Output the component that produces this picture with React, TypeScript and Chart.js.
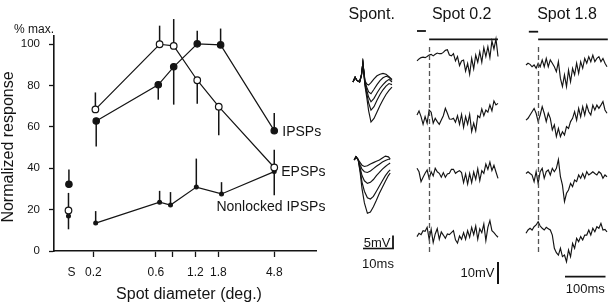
import React, { useEffect, useRef } from 'react';
import { Chart, registerables } from 'chart.js';

Chart.register(...registerables);

const FONT = "'Liberation Sans', Arial, Helvetica, sans-serif";
const INK = '#141414';
Chart.defaults.font.family = FONT;

// ---------------- Left plot data ----------------
const xTickValues = [0.136, 0.2, 0.6, 0.8, 1.2, 1.8, 4.8];
const xTickLabels = ['S', '0.2', '0.6', '', '1.2', '1.8', '4.8'];
const yTickStep = 20;

const epspX = [0.129, 0.207, 0.64, 0.82, 1.24, 1.81, 4.8];
const epspY = [19.6, 68.5, 100, 99.2, 82.6, 69.8, 40.4];
const epspErr = [8.5, 8.2, 9, 13, -11.4, -13.8, 8.6];

const ipspX = [0.13, 0.21, 0.625, 0.82, 1.24, 1.87, 4.8];
const ipspY = [32.3, 62.9, 80.4, 89.1, 100.2, 99.7, 58.2];
const ipspErr = [7.1, -12.3, -7.2, -18.3, 6.4, 7.9, 8.5];

const nonlockedX = [0.129, 0.208, 0.64, 0.775, 1.22, 1.9, 4.8];
const nonlockedY = [16.9, 13.5, 23.6, 22.2, 30.9, 27.6, 38.4];
const nonlockedErr = [-6.4, 5.8, 5.5, 6.3, 13.8, 5.7, -11.4];

const seriesLabels = [
  { text: 'IPSPs', x: 4.8, y: 57.6, dx: 8 },
  { text: 'EPSPs', x: 4.8, y: 38.2, dx: 7 },
  { text: 'Nonlocked IPSPs', x: 1.8, y: 21.4, dx: -2 },
];
const xTitle = 'Spot diameter (deg.)';
const yTitle = 'Normalized response';
const yUnit = '% max.';

// ---------------- Traces (mV), one sample every 5 ms ----------------
const sampleMs = 5;
const spot02Trace1 = [-1.2, -0.3, 0.3, 0.5, 0.3, 0.8, 1.5, 1.8, 1.1, 1.8, 2.4, 2.1, 2.1, 2.7, 3.6, 3.9, 1.5, 1.1, 2.1, -1.2, 0.8, -3.3, -1.2, -0.8, -5.8, -2.3, -7.3, 0, -4.8, 1.5, -1.8, 3.0, -1.8, 4.8, 0.8, 5.3, 0.3, 7.9, 4.2, 8.8, 0.8];
const spot02Trace2 = [-0.8, 1.1, -1.5, -5.0, -1.5, -4.5, 1.5, 0.5, -4.5, -2.3, -3.8, -5.0, -3.0, -1.1, 2.3, 0, -2.6, -2.7, -2.3, -4.1, -1.1, -5.0, -0.5, -6.4, -1.5, -5.0, -0.5, -8.3, -4.5, -8.0, -1.1, -2.0, 2.0, -1.1, 1.5, 0.5, 3.8, 1.1, 5.6, 3.8, 4.5];
const spot02Trace3 = [0.8, -0.8, -5.3, -3.3, -1.5, 0, -3.8, -0.8, -2.7, 0.8, -0.8, -1.5, -3.3, -1.2, -3.3, -1.8, -1.5, 0.3, 0.3, -1.5, -0.8, -0.3, -1.2, -5.7, -1.8, -6.4, -1.5, -5.7, -0.9, -4.2, 0.6, -4.8, -0.3, -1.5, 2.7, 0.3, 3.6, -0.3, 2.1, -0.9, -3.8];
const spot02Trace4 = [-1.5, 0, -0.6, 1.2, 0.9, 2.7, -2.7, 1.8, -4.2, -0.3, 2.1, -2.7, 0.6, -0.8, -2.3, -0.3, -0.6, 0.3, 1.2, -3.0, -4.5, -1.2, -2.7, 0.3, -2.7, 1.2, -1.8, 2.7, -0.6, 3.3, -2.7, 2.1, 0.3, 4.2, -3.3, 2.7, 5.8, 1.2, 0.3, -0.8, -1.8];

const spot18Trace1 = [0, 0.8, 0.3, -0.8, 0, -1.5, 0.8, -0.8, 2.3, -0.8, 3.0, -0.8, 2.3, 0.8, -0.8, -3.0, 1.5, -6.1, -9.8, -4.5, -9.8, -2.3, -7.6, -1.5, -4.5, 0.8, -3.8, 1.5, -1.5, 3.0, 0.8, 3.8, 1.5, 4.5, 1.5, 3.0, 3.8, 1.5, 3.0, 0.8, -0.8];
const spot18Trace2 = [-2.3, -1.5, 0, 1.5, 3.0, 0.8, -3.0, 0, 3.8, 0.8, -3.0, 0.8, -1.5, -6.8, -4.5, -9.8, -6.1, -9.8, -7.6, -9.1, -5.3, -6.1, -3.0, -1.5, 1.5, -2.3, 3.0, -0.8, 3.8, 0, 4.5, 1.5, 0, 4.5, 2.3, 4.5, 3.0, 4.5, 6.1, 2.3, 0.8];
const spot18Trace3 = [-0.8, 0, -0.8, -1.5, -4.5, 0, -5.3, 0, 1.5, -3.0, 0, 0.8, -1.5, 1.5, 0, 1.5, 5.5, -2.3, -6.1, -13.6, -9.8, -8.3, -5.3, -6.8, -3.8, -4.5, -1.5, -3.0, -0.8, -3.0, 0, -1.5, -0.8, 0, -0.8, -1.5, 0, -0.8, -3.0, -1.5, -2.3];
const spot18Trace4 = [-1.5, 0, 0.8, 0, 1.5, 2.3, 3.8, 1.8, 0.8, 0, 1.2, 0.6, 0, -2.3, -8.3, -10.3, -11.4, -8.3, -12.1, -11.4, -14.4, -9.1, -12.1, -6.1, -8.3, -3.8, -5.3, -3.0, -4.5, -2.3, -2.3, 0, -2.3, 0.8, -0.8, 1.5, 0.8, 3.0, 0, 0.3, -0.8];

const stimOnsetMs = 30;
const spot02StimEndMs = 200;
const spot18StimEndMs = 202;
const spot02MarkerMs = [0, 22];
const spot18MarkerMs = [7, 30];

// Spontaneous events (ms, mV)
const spontUpperTime = [0, 0.7, 1.3, 2.2, 2.8, 3.3, 4.0, 4.6, 5.2, 6.0, 7.0, 8.0, 9.0, 10, 11, 12, 13];
const spontUpperCurves = [
  [0, 1.8, 0.6, 0, 2.5, 7.3, 0.5, -0.8, -1.2, -0.2, 1.2, 2.4, 3.0, 3.3, 3.0, 2.0, 1.0],
  [0, 1.8, 0.6, 0, 2.5, 7.3, 0, -2.0, -3.8, -4.5, -2.8, -1.0, 0.5, 1.6, 2.2, 1.8, 0.6],
  [0, 1.8, 0.6, 0, 2.5, 7.3, -0.5, -3.2, -5.8, -7.6, -6.3, -4.2, -2.4, -1.0, 0.2, 1.0, 0],
  [0, 1.8, 0.6, 0, 2.5, 7.3, -1.0, -4.5, -8.0, -10.8, -9.5, -7.0, -4.8, -3.0, -1.6, -0.6, -1.0],
  [0, 1.8, 0.6, 0, 2.5, 7.3, -1.5, -6.0, -11.0, -15.4, -14.0, -11.5, -9.0, -6.8, -4.8, -3.2, -2.0],
];
const spontLowerTime = [0.4, 1.0, 1.7, 2.4, 3.0, 3.8, 4.8, 5.8, 6.8, 7.8, 8.8, 9.8, 10.8, 11.8, 12.4];
const spontLowerCurves = [
  [0, 1.2, 0.2, -1.0, -2.0, -2.5, -2.2, -1.5, -1.0, -0.5, 0, 0.8, 1.5, 1.2, 0.4],
  [0, 1.2, 0.2, -2.0, -3.5, -4.5, -4.8, -4.2, -3.3, -2.4, -1.6, -0.8, -0.2, 0.3, 0.3],
  [0, 1.2, 0.2, -3.0, -6.0, -8.0, -9.0, -8.6, -7.5, -6.0, -4.8, -3.5, -2.5, -1.6, -1.2],
  [0, 1.2, 0.2, -4.0, -8.5, -12.0, -14.5, -15.0, -14.0, -12.0, -10.0, -8.0, -6.0, -4.5, -3.8],
  [0, 1.2, 0.2, -5.0, -11.0, -16.5, -20.5, -20.0, -18.0, -15.5, -12.8, -10.5, -8.2, -6.0, -5.0],
];

const spontScaleMv = 5;
const spontScaleMs = 10;
const spotScaleMv = 10;
const spotScaleMs = 100;

// ---------------- Layout ----------------
const FIG_H = 302;
const LEFT_W = 345;
const AREA = { left: 54, top: 36, right: 316, bottom: 251 };

const errorSeries = [
  { xs: epspX, ys: epspY, errs: epspErr },
  { xs: ipspX, ys: ipspY, errs: ipspErr },
  { xs: nonlockedX, ys: nonlockedY, errs: nonlockedErr },
];

const errorBarPlugin = {
  id: 'errorBars',
  beforeDatasetsDraw(chart: any) {
    const { ctx, scales } = chart;
    const x = scales.x, y = scales.y;
    ctx.save();
    ctx.strokeStyle = INK;
    ctx.lineWidth = 1.5;
    errorSeries.forEach((s) => {
      s.xs.forEach((xv, i) => {
        const px = x.getPixelForValue(xv);
        ctx.beginPath();
        ctx.moveTo(px, y.getPixelForValue(s.ys[i]));
        ctx.lineTo(px, y.getPixelForValue(s.ys[i] + s.errs[i]));
        ctx.stroke();
      });
    });
    ctx.restore();
  },
};

const leftTextPlugin = {
  id: 'leftText',
  afterDraw(chart: any) {
    const { ctx, chartArea, scales } = chart;
    const x = scales.x, y = scales.y;
    ctx.save();
    ctx.fillStyle = INK;
    ctx.textBaseline = 'alphabetic';
    ctx.font = `12px ${FONT}`;
    ctx.textAlign = 'right';
    ctx.fillText(yUnit, chartArea.left, 33);
    ctx.font = `16px ${FONT}`;
    ctx.textAlign = 'center';
    ctx.fillText(xTitle, 189, 299);
    ctx.save();
    ctx.translate(13, 147);
    ctx.rotate(-Math.PI / 2);
    ctx.fillText(yTitle, 0, 0);
    ctx.restore();
    ctx.font = `14px ${FONT}`;
    ctx.textAlign = 'left';
    ctx.textBaseline = 'middle';
    seriesLabels.forEach((l) => {
      ctx.fillText(l.text, x.getPixelForValue(l.x) + l.dx, y.getPixelForValue(l.y));
    });
    ctx.restore();
  },
};

function pts(xs: number[], ys: number[]) {
  return xs.map((x, i) => ({ x, y: ys[i] }));
}

function leftConfig(): any {
  const hideFirst = { borderColor: (c: any) => (c.p0DataIndex === 0 ? 'rgba(0,0,0,0)' : INK) };
  const base = { borderColor: INK, borderWidth: 1.2, tension: 0, segment: hideFirst, pointBorderColor: INK, pointBorderWidth: 1.2 };
  return {
    type: 'line',
    data: {
      datasets: [
        { ...base, label: 'EPSPs', data: pts(epspX, epspY), pointRadius: 3.3, pointBackgroundColor: '#ffffff' },
        { ...base, label: 'IPSPs', data: pts(ipspX, ipspY), pointRadius: 3.2, pointBackgroundColor: INK },
        { ...base, label: 'Nonlocked IPSPs', data: pts(nonlockedX, nonlockedY), pointRadius: 1.9, pointBackgroundColor: INK },
      ],
    },
    options: {
      responsive: false,
      animation: false,
      events: [],
      layout: { padding: { left: 0, top: AREA.top, right: LEFT_W - AREA.right, bottom: 0 } },
      plugins: { legend: { display: false }, tooltip: { enabled: false }, title: { display: false } },
      scales: {
        x: {
          type: 'logarithmic',
          min: 0.1,
          max: 10,
          afterFit: (s: any) => { s.height = FIG_H - AREA.bottom; },
          afterBuildTicks: (s: any) => { s.ticks = xTickValues.map((v) => ({ value: v })); },
          ticks: {
            autoSkip: false,
            maxRotation: 0,
            minRotation: 0,
            padding: 8,
            color: INK,
            font: { size: 12, family: FONT },
            callback: (_v: any, i: number) => xTickLabels[i],
          },
          grid: {
            drawOnChartArea: false,
            drawTicks: true,
            tickLength: 6,
            tickWidth: 1.3,
            tickColor: (c: any) => (c.index === 0 ? 'rgba(0,0,0,0)' : INK),
          },
          border: { display: true, color: INK, width: 1.6 },
        },
        y: {
          type: 'linear',
          min: 0,
          max: 104,
          afterFit: (s: any) => { s.width = AREA.left; },
          ticks: {
            stepSize: yTickStep,
            includeBounds: false,
            padding: 9,
            color: INK,
            font: { size: 11.5, family: FONT },
          },
          grid: { drawOnChartArea: false, drawTicks: true, tickLength: 5, tickWidth: 1.3, tickColor: INK },
          border: { display: true, color: INK, width: 1.6 },
        },
      },
    },
    plugins: [errorBarPlugin, leftTextPlugin],
  };
}

type TraceSpec = {
  width: number;
  t0Px: number;
  pxPerMs: number;
  pxPerMv: number;
  baselines: number[];
  traces: { times: number[]; values: number[]; axis: number }[];
  draw: (chart: any) => void;
};

function traceConfig(spec: TraceSpec): any {
  const xMin = -spec.t0Px / spec.pxPerMs;
  const xMax = xMin + spec.width / spec.pxPerMs;
  const scales: any = { x: { type: 'linear', display: false, min: xMin, max: xMax } };
  spec.baselines.forEach((b, k) => {
    scales['y' + k] = { type: 'linear', display: false, min: -(FIG_H - b) / spec.pxPerMv, max: b / spec.pxPerMv };
  });
  return {
    type: 'line',
    data: {
      datasets: spec.traces.map((tr) => ({
        data: pts(tr.times, tr.values),
        yAxisID: 'y' + tr.axis,
        borderColor: INK,
        borderWidth: 1.15,
        pointRadius: 0,
        tension: 0,
        fill: false,
      })),
    },
    options: {
      responsive: false,
      animation: false,
      events: [],
      layout: { padding: 0 },
      plugins: { legend: { display: false }, tooltip: { enabled: false }, title: { display: false } },
      scales,
    },
    plugins: [{ id: 'traceDecor', afterDraw: spec.draw }],
  };
}

function title(ctx: any, text: string, x: number) {
  ctx.font = `16px ${FONT}`;
  ctx.fillStyle = INK;
  ctx.textAlign = 'center';
  ctx.textBaseline = 'alphabetic';
  ctx.fillText(text, x, 18.5);
}

function hLine(ctx: any, x1: number, x2: number, y: number, w: number) {
  ctx.beginPath();
  ctx.lineWidth = w;
  ctx.strokeStyle = INK;
  ctx.moveTo(x1, y);
  ctx.lineTo(x2, y);
  ctx.stroke();
}
function vLine(ctx: any, x: number, y1: number, y2: number, w: number) {
  ctx.beginPath();
  ctx.lineWidth = w;
  ctx.strokeStyle = INK;
  ctx.moveTo(x, y1);
  ctx.lineTo(x, y2);
  ctx.stroke();
}

function spotDecor(name: string, titleX: number, markerMs: number[], stimEnd: number, markerY: number) {
  return (chart: any) => {
    const { ctx, scales } = chart;
    const x = scales.x;
    ctx.save();
    title(ctx, name, titleX);
    hLine(ctx, x.getPixelForValue(markerMs[0]), x.getPixelForValue(markerMs[1]), markerY, 1.8);
    hLine(ctx, x.getPixelForValue(stimOnsetMs), x.getPixelForValue(stimEnd), 39.3, 1.8);
    ctx.setLineDash([5, 3]);
    ctx.strokeStyle = '#555';
    ctx.lineWidth = 1.3;
    ctx.beginPath();
    const px = Math.round(x.getPixelForValue(stimOnsetMs)) + 0.5;
    ctx.moveTo(px, 47);
    ctx.lineTo(px, 253);
    ctx.stroke();
    ctx.setLineDash([]);
    ctx.restore();
  };
}

function spot02Config(): any {
  const deco = spotDecor('Spot 0.2', 56.7, spot02MarkerMs, spot02StimEndMs, 31);
  const traces = [spot02Trace1, spot02Trace2, spot02Trace3, spot02Trace4].map((v, k) => ({
    times: v.map((_, i) => i * sampleMs), values: v, axis: k,
  }));
  return traceConfig({
    width: 110, t0Px: 12, pxPerMs: 0.405, pxPerMv: 2.2,
    baselines: [58.3, 113.3, 170, 233.3],
    traces,
    draw: (chart: any) => {
      deco(chart);
      const { ctx, scales } = chart;
      const y = scales.y0;
      const len = y.getPixelForValue(0) - y.getPixelForValue(spotScaleMv);
      ctx.save();
      vLine(ctx, 93, 284 - len, 284, 2);
      ctx.font = `13px ${FONT}`;
      ctx.fillStyle = INK;
      ctx.textAlign = 'right';
      ctx.textBaseline = 'alphabetic';
      ctx.fillText(`${spotScaleMv}mV`, 89.5, 277);
      ctx.restore();
    },
  });
}

function spot18Config(): any {
  const deco = spotDecor('Spot 1.8', 52, spot18MarkerMs, spot18StimEndMs, 31.7);
  const traces = [spot18Trace1, spot18Trace2, spot18Trace3, spot18Trace4].map((v, k) => ({
    times: v.map((_, i) => i * sampleMs), values: v, axis: k,
  }));
  return traceConfig({
    width: 94, t0Px: 11, pxPerMs: 0.405, pxPerMv: 2.2,
    baselines: [65, 115, 171.7, 230],
    traces,
    draw: (chart: any) => {
      deco(chart);
      const { ctx, scales } = chart;
      const x = scales.x;
      const len = x.getPixelForValue(spotScaleMs) - x.getPixelForValue(0);
      ctx.save();
      hLine(ctx, 50, 50 + len, 276.7, 1.8);
      ctx.font = `13px ${FONT}`;
      ctx.fillStyle = INK;
      ctx.textAlign = 'center';
      ctx.textBaseline = 'alphabetic';
      ctx.fillText(`${spotScaleMs}ms`, 50 + len / 2, 293);
      ctx.restore();
    },
  });
}

function spontConfig(): any {
  const traces = [
    ...spontUpperCurves.map((v) => ({ times: spontUpperTime, values: v, axis: 0 })),
    ...spontLowerCurves.map((v) => ({ times: spontLowerTime, values: v, axis: 1 })),
  ];
  return traceConfig({
    width: 60, t0Px: 8, pxPerMs: 3, pxPerMv: 2.6,
    baselines: [82, 160],
    traces,
    draw: (chart: any) => {
      const { ctx, scales } = chart;
      const x = scales.x, y = scales.y1;
      ctx.save();
      title(ctx, 'Spont.', 26.7);
      const vlen = y.getPixelForValue(0) - y.getPixelForValue(spontScaleMv);
      const hlen = x.getPixelForValue(spontScaleMs) - x.getPixelForValue(0);
      vLine(ctx, 48, 248.5 - vlen, 248.5, 1.8);
      hLine(ctx, 48 - hlen, 48.9, 248.5, 1.6);
      ctx.font = `13px ${FONT}`;
      ctx.fillStyle = INK;
      ctx.textAlign = 'right';
      ctx.textBaseline = 'alphabetic';
      ctx.fillText(`${spontScaleMv}mV`, 45.5, 246.5);
      ctx.textAlign = 'center';
      ctx.fillText(`${spontScaleMs}ms`, 48 - hlen / 2, 268);
      ctx.restore();
    },
  });
}

export default function App() {
  const leftRef = useRef<HTMLCanvasElement>(null);
  const spontRef = useRef<HTMLCanvasElement>(null);
  const s02Ref = useRef<HTMLCanvasElement>(null);
  const s18Ref = useRef<HTMLCanvasElement>(null);

  useEffect(() => {
    const charts = [
      new Chart(leftRef.current as HTMLCanvasElement, leftConfig()),
      new Chart(spontRef.current as HTMLCanvasElement, spontConfig()),
      new Chart(s02Ref.current as HTMLCanvasElement, spot02Config()),
      new Chart(s18Ref.current as HTMLCanvasElement, spot18Config()),
    ];
    return () => charts.forEach((c) => c.destroy());
  }, []);

  const abs = (left: number, width: number): React.CSSProperties => ({
    position: 'absolute', left, top: 0, width, height: FIG_H, display: 'block',
  });

  return (
    <div style={{ position: 'absolute', left: 0, top: 0, width: 609, height: FIG_H, background: '#ffffff', overflow: 'hidden' }}>
      <canvas ref={leftRef} width={LEFT_W} height={FIG_H} style={abs(0, LEFT_W)} />
      <canvas ref={spontRef} width={60} height={FIG_H} style={abs(345, 60)} />
      <canvas ref={s02Ref} width={110} height={FIG_H} style={abs(405, 110)} />
      <canvas ref={s18Ref} width={94} height={FIG_H} style={abs(515, 94)} />
    </div>
  );
}
